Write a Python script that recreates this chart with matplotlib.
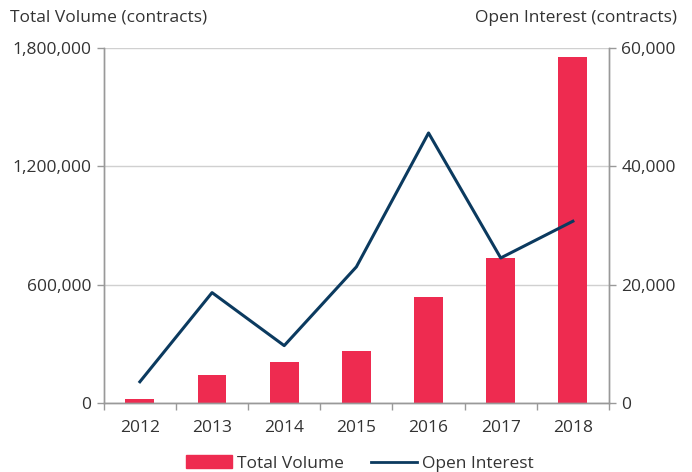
import matplotlib
matplotlib.use("Agg")
import matplotlib.pyplot as plt
from matplotlib.ticker import FuncFormatter
from matplotlib.patches import Patch
from matplotlib.lines import Line2D
import numpy as np

years = ["2012", "2013", "2014", "2015", "2016", "2017", "2018"]
total_volume = [19000, 140000, 206000, 262000, 536000, 733000, 1752000]
open_interest = [3600, 18650, 9700, 23000, 45600, 24500, 30700]

left_ticks = [0, 600000, 1200000, 1800000]
right_ticks = [0, 20000, 40000, 60000]

BAR = "#EE2B50"
LINE = "#0B3A5F"
TXT = "#333333"
AX = "#999999"
GRID = "#D0D0D0"

plt.rcParams['font.family'] = ['Open Sans', 'DejaVu Sans']
FS = 12.5

fig = plt.figure(figsize=(6.92, 4.72), dpi=100)
ax = fig.add_axes([0.150, 0.146, 0.730, 0.753])
ax2 = ax.twinx()

x = np.arange(len(years))
ax.bar(x, total_volume, width=0.4, color=BAR, zorder=2)
ax2.plot(x, open_interest, color=LINE, lw=2.2, zorder=3)

ax.set_xlim(-0.5, len(years) - 0.5)
ax.set_ylim(0, 1800000)
ax2.set_ylim(0, 60000)
ax.set_yticks(left_ticks)
ax2.set_yticks(right_ticks)
fmt = FuncFormatter(lambda v, p: f"{int(v):,}")
ax.yaxis.set_major_formatter(fmt)
ax2.yaxis.set_major_formatter(fmt)

ax.set_xticks(x)
ax.set_xticklabels(years)
ax.set_xticks(np.arange(-0.5, len(years)), minor=True)
ax.tick_params(axis='x', which='major', length=0, pad=12, labelsize=FS, labelcolor=TXT)
ax.tick_params(axis='x', which='minor', length=5, color=AX, width=1)

ax.tick_params(axis='y', length=5, color=AX, width=1, labelsize=FS, labelcolor=TXT, pad=4)
ax2.tick_params(axis='y', length=5, color=AX, width=1, labelsize=FS, labelcolor=TXT, pad=4)

ax.yaxis.grid(True, color=GRID, lw=1)
ax.set_axisbelow(True)

for a in (ax, ax2):
    a.spines['top'].set_visible(False)
    for s in ('left', 'right', 'bottom'):
        a.spines[s].set_color(AX)
        a.spines[s].set_linewidth(1)

fig.text(0.015, 0.962, "Total Volume (contracts)", ha='left', va='center', fontsize=FS, color=TXT)
fig.text(0.978, 0.962, "Open Interest (contracts)", ha='right', va='center', fontsize=FS, color=TXT)

handles = [Patch(color=BAR), Line2D([0], [0], color=LINE, lw=2)]
fig.legend(handles, ["Total Volume", "Open Interest"], loc='center', bbox_to_anchor=(0.52, 0.018),
           ncol=2, frameon=False, fontsize=FS, labelcolor=TXT, handlelength=2.65, handleheight=0.75,
           handletextpad=0.25, columnspacing=1.6)

fig.savefig("out.png", dpi=100)
